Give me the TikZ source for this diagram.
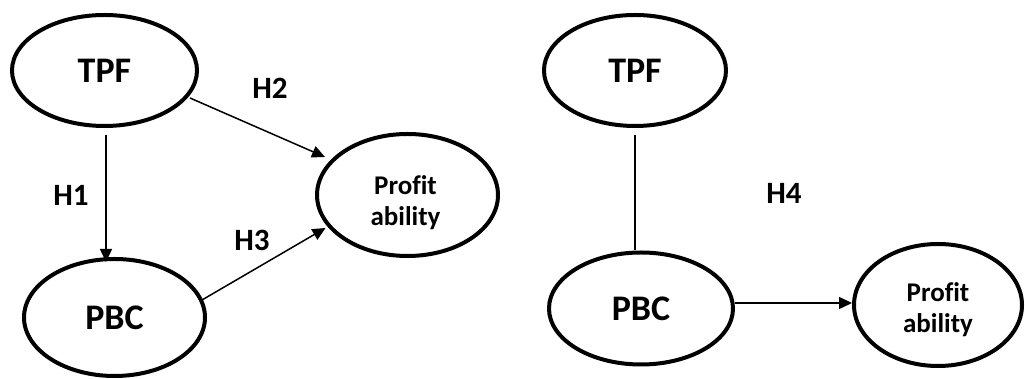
\documentclass[tikz,border=0pt]{standalone}
\usepackage{fontspec}
\setmainfont{Carlito}[Ligatures=NoCommon]
\usetikzlibrary{shapes.geometric,arrows.meta}
\tikzset{
  blob/.style={ellipse, draw, line width=4pt, inner sep=0pt, font=\bfseries\fontsize{36}{40}\selectfont},
  ring/.style={ellipse, draw, line width=4pt, inner sep=0pt},
  proftext/.style={inner sep=0pt, align=center, font=\bfseries\fontsize{27}{31}\selectfont},
  hlabel/.style={font=\bfseries\fontsize{31}{34}\selectfont, inner sep=0pt},
  arr/.style={line width=1.5pt, -{Triangle[length=13pt,width=12pt]}},
  plain/.style={line width=1.5pt}
}
\begin{document}
\begin{tikzpicture}[x=1pt,y=1pt]
\useasboundingbox (0,0) rectangle (1025,379);
% left diagram
\node[blob, minimum width=185pt, minimum height=111pt] (tpf1) at (104.5,308.5) {TPF};
\node[blob, minimum width=181pt, minimum height=117pt] (pbc1) at (114.5,61.5) {PBC};
\node[ring, minimum width=181pt, minimum height=122pt] (prof1) at (407.5,184) {};
\node[proftext] (prof1t) at ([xshift=-2pt,yshift=-8pt]prof1.center) {Profit\\ability};
\draw[arr] ([xshift=1.5pt,yshift=-7pt]tpf1.south) -- ([xshift=-8.5pt,yshift=-5pt]pbc1.north);
\draw[arr] ([shift={(85.5pt,-27.5pt)}]tpf1.center) -- ([shift={(-82.5pt,38pt)}]prof1.center);
\draw[arr] ([shift={(87.5pt,17.5pt)}]pbc1.center) -- ([shift={(-82pt,-33pt)}]prof1.center);
\node[hlabel] (h1) at (71,184) {H1};
\node[hlabel] (h2) at (270,291) {H2};
\node[hlabel] (h3) at (252,139) {H3};
% right diagram
\node[blob, minimum width=182pt, minimum height=111pt] (tpf2) at (635,308.5) {TPF};
\node[blob, minimum width=184pt, minimum height=112pt] (pbc2) at (641,70.5) {PBC};
\node[ring, minimum width=168pt, minimum height=122pt] (prof2) at (938,74) {};
\node[proftext] (prof2t) at ([yshift=-5pt]prof2.center) {Profit\\ability};
\draw[plain] ([yshift=-7pt]tpf2.south) -- (tpf2.south |- pbc2.north);
\draw[arr] ([yshift=5.5pt]pbc2.east) -- ([yshift=5.5pt]pbc2.east -| prof2.west);
\node[hlabel] (h4) at (784,186) {H4};
\end{tikzpicture}
\end{document}
